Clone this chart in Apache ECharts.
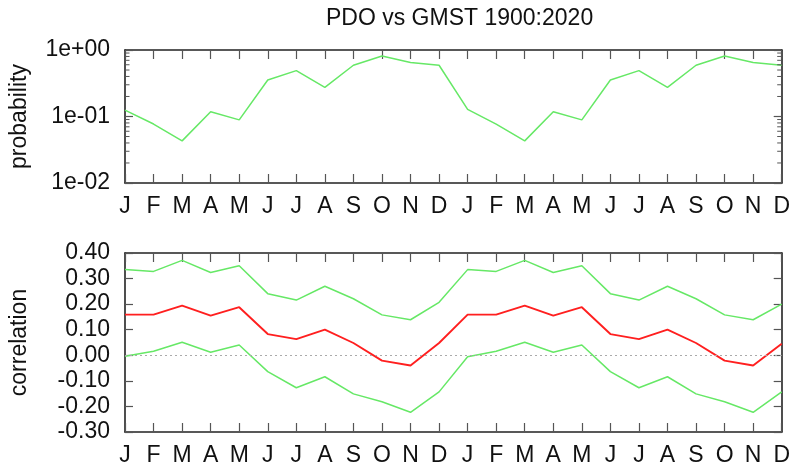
<!DOCTYPE html>
<html>
<head>
<meta charset="utf-8">
<script src="https://cdn.jsdelivr.net/npm/echarts@6/dist/echarts.min.js"></script>
<style>html,body{margin:0;padding:0;background:#fff}#c{width:793px;height:469px}</style>
</head>
<body>
<div id="c"></div>
<script>
const months = ['J','F','M','A','M','J','J','A','S','O','N','D','J','F','M','A','M','J','J','A','S','O','N','D'];
const probability = [0.125,0.077,0.043,0.118,0.089,0.354,0.49,0.275,0.59,0.81,0.65,0.59,
                     0.128,0.077,0.043,0.118,0.089,0.354,0.49,0.275,0.59,0.81,0.65,0.59];
const corr = [0.159,0.159,0.194,0.155,0.188,0.083,0.063,0.100,0.048,-0.021,-0.040,0.048,
              0.159,0.159,0.194,0.155,0.188,0.083,0.063,0.100,0.048,-0.021,-0.040,0.045];
const corrUpper = [0.335,0.328,0.371,0.324,0.350,0.241,0.216,0.270,0.221,0.158,0.139,0.207,
                   0.335,0.328,0.371,0.324,0.350,0.241,0.216,0.270,0.221,0.158,0.139,0.200];
const corrLower = [-0.004,0.016,0.051,0.012,0.040,-0.064,-0.127,-0.084,-0.151,-0.182,-0.223,-0.143,
                   -0.006,0.016,0.051,0.012,0.040,-0.064,-0.127,-0.084,-0.151,-0.182,-0.223,-0.143];
const logDecades = [0.01, 0.1];
const minorMultipliers = [2,3,4,5,6,7,8,9];
const corrTicks = {min: -0.3, max: 0.4, interval: 0.1};

const FONT = 'Liberation Sans, Arial, Helvetica, sans-serif';
const FS = 23;
const minorTickData = [];
logDecades.forEach(d => minorMultipliers.forEach(m => minorTickData.push([0, d * m])));

function expLabel(v) {
  const e = Math.round(Math.log10(v));
  return '1e' + (e < 0 ? '-' : '+') + String(Math.abs(e)).padStart(2, '0');
}

function axLine() { return {show: true, onZero: false, lineStyle: {color: '#222', width: 1.6}}; }
function tick(len) { return {show: true, inside: true, length: len, lineStyle: {color: '#555', width: 1.2}}; }
const labelStyle = {color: '#111', fontSize: FS, fontFamily: FONT};

const chart = echarts.init(document.getElementById('c'), null, {renderer: 'canvas'});
chart.setOption({
  animation: false,
  backgroundColor: '#fff',
  title: {
    text: 'PDO vs GMST 1900:2020', left: 321, top: 2,
    textStyle: {fontSize: FS, fontWeight: 'normal', color: '#111', fontFamily: FONT}
  },
  grid: [
    {left: 124, right: 8, top: 50, height: 133},
    {left: 124, right: 8, top: 253, height: 179}
  ],
  xAxis: [
    {type: 'category', gridIndex: 0, data: months, boundaryGap: false, position: 'bottom',
     axisLine: axLine(), axisTick: tick(9), axisLabel: {...labelStyle, margin: 12, interval: 0}, splitLine: {show: false}},
    {type: 'category', gridIndex: 0, data: months, boundaryGap: false, position: 'top',
     axisLine: axLine(), axisTick: tick(9), axisLabel: {show: false}, splitLine: {show: false}},
    {type: 'category', gridIndex: 1, data: months, boundaryGap: false, position: 'bottom',
     axisLine: axLine(), axisTick: tick(9), axisLabel: {...labelStyle, margin: 12, interval: 0}, splitLine: {show: false}},
    {type: 'category', gridIndex: 1, data: months, boundaryGap: false, position: 'top',
     axisLine: axLine(), axisTick: tick(9), axisLabel: {show: false}, splitLine: {show: false}}
  ],
  yAxis: [
    {type: 'log', gridIndex: 0, logBase: 10, min: 0.01, max: 1, position: 'left',
     name: 'probability', nameLocation: 'middle', nameGap: 94, nameRotate: 90,
     nameTextStyle: {...labelStyle},
     axisLine: axLine(), axisTick: tick(8), axisLabel: {...labelStyle, margin: 15, formatter: expLabel}, splitLine: {show: false}},
    {type: 'log', gridIndex: 0, logBase: 10, min: 0.01, max: 1, position: 'right',
     axisLine: axLine(), axisTick: tick(8), axisLabel: {show: false}, splitLine: {show: false}},
    {type: 'value', gridIndex: 1, min: corrTicks.min, max: corrTicks.max, interval: corrTicks.interval, position: 'left',
     name: 'correlation', nameLocation: 'middle', nameGap: 94, nameRotate: 90,
     nameTextStyle: {...labelStyle},
     axisLine: axLine(), axisTick: tick(8), axisLabel: {...labelStyle, margin: 15, formatter: v => v.toFixed(2)}, splitLine: {show: false}},
    {type: 'value', gridIndex: 1, min: corrTicks.min, max: corrTicks.max, interval: corrTicks.interval, position: 'right',
     axisLine: axLine(), axisTick: tick(8), axisLabel: {show: false}, splitLine: {show: false}}
  ],
  series: [
    {type: 'line', xAxisIndex: 0, yAxisIndex: 0, data: probability, symbol: 'none',
     lineStyle: {color: '#66e866', width: 1.5}},
    {type: 'custom', xAxisIndex: 0, yAxisIndex: 0, data: minorTickData, silent: true, z: 5,
     renderItem: function (params, api) {
       const v = api.value(1);
       const l = api.coord([0, v]);
       const r = api.coord([months.length - 1, v]);
       const st = {stroke: '#555', lineWidth: 1, fill: null};
       return {type: 'group', children: [
         {type: 'line', shape: {x1: l[0], y1: l[1], x2: l[0] + 4.5, y2: l[1]}, style: st},
         {type: 'line', shape: {x1: r[0], y1: r[1], x2: r[0] - 4.5, y2: r[1]}, style: st}
       ]};
     }},
    {type: 'line', xAxisIndex: 2, yAxisIndex: 2, data: corrUpper, symbol: 'none',
     lineStyle: {color: '#66e866', width: 1.5}},
    {type: 'line', xAxisIndex: 2, yAxisIndex: 2, data: corrLower, symbol: 'none',
     lineStyle: {color: '#66e866', width: 1.5}},
    {type: 'line', xAxisIndex: 2, yAxisIndex: 2, data: corr, symbol: 'none', z: 3,
     lineStyle: {color: '#ff1f1f', width: 1.9}},
    {type: 'line', xAxisIndex: 2, yAxisIndex: 2, data: [], symbol: 'none', z: 1,
     markLine: {silent: true, symbol: 'none', label: {show: false},
       lineStyle: {color: '#aaa', type: [2, 3], width: 1},
       data: [{yAxis: 0}]}}
  ]
});
</script>
</body>
</html>
